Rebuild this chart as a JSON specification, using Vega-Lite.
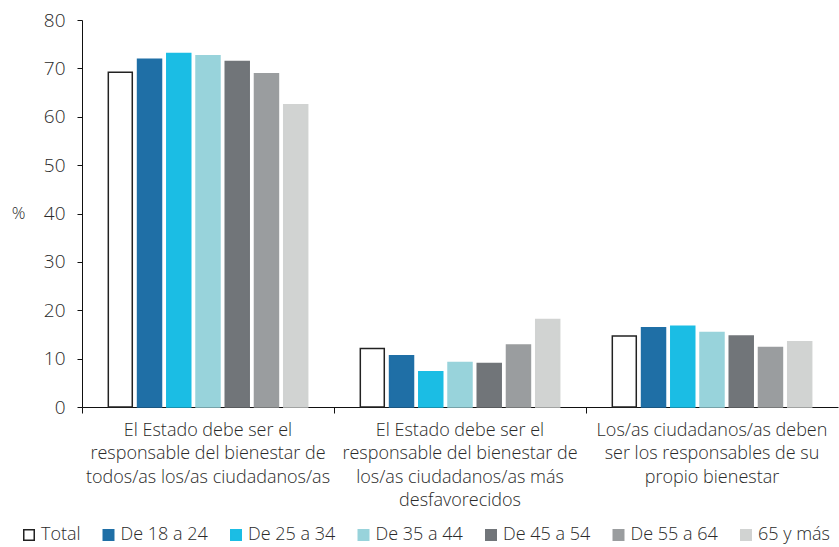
{
  "$schema": "https://vega.github.io/schema/vega-lite/v6.json",
  "width": 756,
  "height": 387,
  "autosize": {"type": "none"},
  "padding": {"left": 82, "top": 20, "right": 1, "bottom": 140},
  "config": {
    "view": {"stroke": null},
    "font": "Open Sans",
    "axis": {"labelColor": "#2a2a2a", "titleColor": "#2a2a2a", "domainColor": "#111", "tickColor": "#111", "grid": false, "labelFontWeight": 300},
    "legend": {"labelFontWeight": 300}
  },
  "data": {
    "values": [
      {"cat": "El Estado debe ser el|responsable del bienestar de|todos/as los/as ciudadanos/as", "grupo": "Total", "v": 69.2},
      {"cat": "El Estado debe ser el|responsable del bienestar de|todos/as los/as ciudadanos/as", "grupo": "De 18 a 24", "v": 71.9},
      {"cat": "El Estado debe ser el|responsable del bienestar de|todos/as los/as ciudadanos/as", "grupo": "De 25 a 34", "v": 73.1},
      {"cat": "El Estado debe ser el|responsable del bienestar de|todos/as los/as ciudadanos/as", "grupo": "De 35 a 44", "v": 72.6},
      {"cat": "El Estado debe ser el|responsable del bienestar de|todos/as los/as ciudadanos/as", "grupo": "De 45 a 54", "v": 71.4},
      {"cat": "El Estado debe ser el|responsable del bienestar de|todos/as los/as ciudadanos/as", "grupo": "De 55 a 64", "v": 68.9},
      {"cat": "El Estado debe ser el|responsable del bienestar de|todos/as los/as ciudadanos/as", "grupo": "65 y más", "v": 62.5},
      {"cat": "El Estado debe ser el|responsable del bienestar de|los/as ciudadanos/as más|desfavorecidos", "grupo": "Total", "v": 12.1},
      {"cat": "El Estado debe ser el|responsable del bienestar de|los/as ciudadanos/as más|desfavorecidos", "grupo": "De 18 a 24", "v": 10.6},
      {"cat": "El Estado debe ser el|responsable del bienestar de|los/as ciudadanos/as más|desfavorecidos", "grupo": "De 25 a 34", "v": 7.3},
      {"cat": "El Estado debe ser el|responsable del bienestar de|los/as ciudadanos/as más|desfavorecidos", "grupo": "De 35 a 44", "v": 9.2},
      {"cat": "El Estado debe ser el|responsable del bienestar de|los/as ciudadanos/as más|desfavorecidos", "grupo": "De 45 a 54", "v": 9.0},
      {"cat": "El Estado debe ser el|responsable del bienestar de|los/as ciudadanos/as más|desfavorecidos", "grupo": "De 55 a 64", "v": 12.8},
      {"cat": "El Estado debe ser el|responsable del bienestar de|los/as ciudadanos/as más|desfavorecidos", "grupo": "65 y más", "v": 18.1},
      {"cat": "Los/as ciudadanos/as deben|ser los responsables de su|propio bienestar", "grupo": "Total", "v": 14.7},
      {"cat": "Los/as ciudadanos/as deben|ser los responsables de su|propio bienestar", "grupo": "De 18 a 24", "v": 16.4},
      {"cat": "Los/as ciudadanos/as deben|ser los responsables de su|propio bienestar", "grupo": "De 25 a 34", "v": 16.7},
      {"cat": "Los/as ciudadanos/as deben|ser los responsables de su|propio bienestar", "grupo": "De 35 a 44", "v": 15.4},
      {"cat": "Los/as ciudadanos/as deben|ser los responsables de su|propio bienestar", "grupo": "De 45 a 54", "v": 14.7},
      {"cat": "Los/as ciudadanos/as deben|ser los responsables de su|propio bienestar", "grupo": "De 55 a 64", "v": 12.3},
      {"cat": "Los/as ciudadanos/as deben|ser los responsables de su|propio bienestar", "grupo": "65 y más", "v": 13.5}
    ]
  },
  "mark": {"type": "bar", "strokeWidth": 1.5},
  "encoding": {
    "x": {
      "field": "cat", "type": "nominal", "sort": null,
      "scale": {"paddingInner": 0, "paddingOuter": 0},
      "axis": {
        "title": null, "labelAngle": 0, "labelExpr": "split(datum.label, '|')",
        "labelFontSize": 18, "labelLineHeight": 23.5, "labelPadding": 8, "tickSize": 6,
        "bandPosition": 0, "labelBaseline": "top", "labelLimit": 300
      }
    },
    "xOffset": {
      "field": "grupo", "type": "nominal",
      "sort": ["Total", "De 18 a 24", "De 25 a 34", "De 35 a 44", "De 45 a 54", "De 55 a 64", "65 y más"],
      "scale": {"paddingInner": 0.18, "paddingOuter": 0.9}
    },
    "y": {
      "field": "v", "type": "quantitative",
      "scale": {"domain": [0, 80]},
      "axis": {
        "title": "%", "titleAngle": 0, "titleFontSize": 17, "titleFontWeight": 300,
        "titleX": -64, "titleY": 193, "titleAlign": "center", "titleBaseline": "middle",
        "values": [0, 10, 20, 30, 40, 50, 60, 70, 80],
        "labelFontSize": 19, "labelPadding": 12, "tickSize": 5
      }
    },
    "fill": {
      "field": "grupo", "type": "nominal",
      "sort": ["Total", "De 18 a 24", "De 25 a 34", "De 35 a 44", "De 45 a 54", "De 55 a 64", "65 y más"],
      "scale": {
        "domain": ["Total", "De 18 a 24", "De 25 a 34", "De 35 a 44", "De 45 a 54", "De 55 a 64", "65 y más"],
        "range": ["#ffffff", "#1f6fa6", "#1bbde4", "#98d3db", "#717579", "#9a9d9f", "#d1d3d2"]
      },
      "legend": {
        "title": null, "orient": "none", "direction": "horizontal", "columns": 7,
        "legendX": -62, "legendY": 506,
        "symbolType": "square", "symbolSize": 110, "symbolStrokeWidth": 1.5,
        "labelFontSize": 18, "labelColor": "#2a2a2a", "labelOffset": 3, "columnPadding": 18.5
      }
    },
    "stroke": {
      "field": "grupo", "type": "nominal",
      "sort": ["Total", "De 18 a 24", "De 25 a 34", "De 35 a 44", "De 45 a 54", "De 55 a 64", "65 y más"],
      "scale": {
        "domain": ["Total", "De 18 a 24", "De 25 a 34", "De 35 a 44", "De 45 a 54", "De 55 a 64", "65 y más"],
        "range": ["#222222", "#1f6fa6", "#1bbde4", "#98d3db", "#717579", "#9a9d9f", "#d1d3d2"]
      }
    }
  }
}
